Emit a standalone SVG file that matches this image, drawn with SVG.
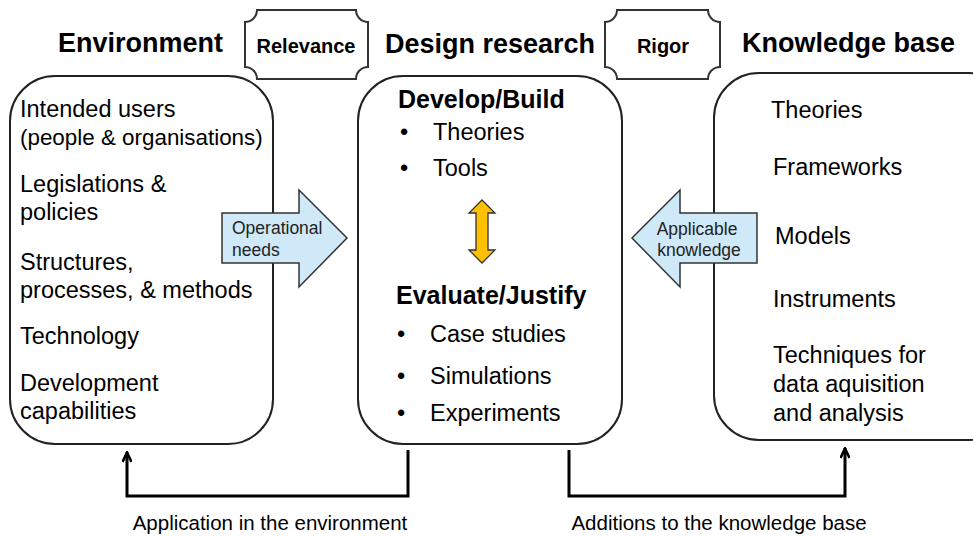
<svg xmlns="http://www.w3.org/2000/svg" width="973" height="536" viewBox="0 0 973 536">
<defs>
<style>
text{font-family:"Liberation Sans",Arial,sans-serif;fill:#000}
.h{font-size:27px;font-weight:bold}
.p{font-size:20px;font-weight:bold}
.t{font-size:23.5px}
.s{font-size:22.4px}
.b{font-size:25px;font-weight:bold}
.a{font-size:17.5px;fill:#222}
.c{font-size:20.5px}
.box{fill:#fff;stroke:#222;stroke-width:2}
.plq{fill:#fff;stroke:#333;stroke-width:2}
.blue{fill:#cfe9f8;stroke:#333;stroke-width:1.5}
.conn{fill:none;stroke:#000;stroke-width:3;stroke-linejoin:miter}
</style>
<marker id="ah" viewBox="0 0 12 10" refX="11" refY="5" markerWidth="12" markerHeight="10" markerUnits="userSpaceOnUse" orient="auto">
<path d="M1,0.5 L10.5,5 L1,9.5" fill="none" stroke="#000" stroke-width="2.6"/>
</marker>
</defs>
<rect width="973" height="536" fill="#fff"/>

<g id="environment">
<text class="h" x="58" y="52">Environment</text>
<rect class="box" x="10" y="76" width="263" height="368" rx="45" ry="45"/>
<text class="t" x="20" y="117">Intended users</text>
<text class="s" x="20" y="145">(people &amp; organisations)</text>
<text class="t" x="20" y="192">Legislations &amp;</text>
<text class="t" x="20" y="220">policies</text>
<text class="t" x="20" y="270">Structures,</text>
<text class="t" x="20" y="298">processes, &amp; methods</text>
<text class="t" x="20" y="344">Technology</text>
<text class="t" x="20" y="391">Development</text>
<text class="t" x="20" y="419">capabilities</text>
</g>

<g id="relevance">
<path class="plq" d="M257,10 H356 A12,12 0 0 0 368,22 V67 A12,12 0 0 0 356,79 H257 A12,12 0 0 0 245,67 V22 A12,12 0 0 0 257,10 Z"/>
<text class="p" x="306" y="53" text-anchor="middle">Relevance</text>
</g>

<g id="design-research">
<text class="h" x="385" y="53">Design research</text>
<rect class="box" x="358" y="76" width="264" height="368" rx="45" ry="45"/>
<text class="b" x="398" y="108">Develop/Build</text>
<text class="t" x="400" y="140">•</text>
<text class="t" x="433" y="140">Theories</text>
<text class="t" x="400" y="176">•</text>
<text class="t" x="433" y="176">Tools</text>
<text class="b" x="396" y="304">Evaluate/Justify</text>
<text class="t" x="397" y="342">•</text>
<text class="t" x="430" y="342">Case studies</text>
<text class="t" x="397" y="384">•</text>
<text class="t" x="430" y="384">Simulations</text>
<text class="t" x="397" y="421">•</text>
<text class="t" x="430" y="421">Experiments</text>
</g>

<g id="rigor">
<path class="plq" d="M617,10 H708 A12,12 0 0 0 720,22 V67 A12,12 0 0 0 708,79 H617 A12,12 0 0 0 605,67 V22 A12,12 0 0 0 617,10 Z"/>
<text class="p" x="663" y="53" text-anchor="middle">Rigor</text>
</g>

<g id="knowledge-base">
<text class="h" x="742" y="52">Knowledge base</text>
<rect class="box" x="714" y="73" width="300" height="367" rx="45" ry="45"/>
<text class="t" x="771" y="118">Theories</text>
<text class="t" x="773" y="175">Frameworks</text>
<text class="t" x="775" y="244">Models</text>
<text class="t" x="773" y="307">Instruments</text>
<text class="t" x="773" y="363">Techniques for</text>
<text class="t" x="773" y="392">data aquisition</text>
<text class="t" x="773" y="421">and analysis</text>
</g>

<g id="operational-needs">
<path class="blue" d="M222,213 H299 V190 L347,238 L299,287 V263 H222 Z"/>
<text class="a" x="232" y="234">Operational</text>
<text class="a" x="232" y="256">needs</text>
</g>

<g id="applicable-knowledge">
<path class="blue" d="M757,213 H680 V190 L632,238 L680,287 V263 H757 Z"/>
<text class="a" x="697" y="235" text-anchor="middle">Applicable</text>
<text class="a" x="699" y="256" text-anchor="middle">knowledge</text>
</g>

<g id="connectors">
<path d="M482,200 L495,213 H488 V250 H495 L482,263 L469,250 H476 V213 H469 Z" fill="#ffc000" stroke="#333" stroke-width="1.3"/>
<path class="conn" d="M408,450 V496 H127 V452" marker-end="url(#ah)"/>
<path class="conn" d="M569,450 V496 H845 V448" marker-end="url(#ah)"/>
<text class="c" x="270" y="530" text-anchor="middle">Application in the environment</text>
<text class="c" x="719" y="530" text-anchor="middle">Additions to the knowledge base</text>
</g>
</svg>
